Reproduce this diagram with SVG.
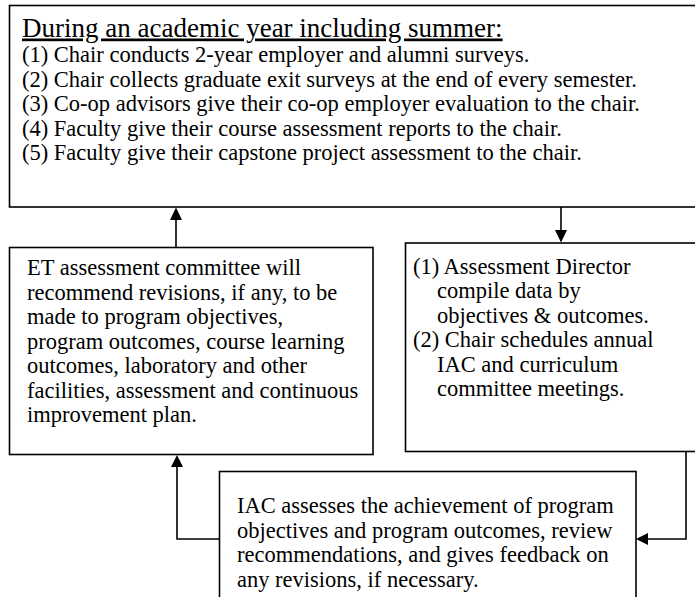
<svg xmlns="http://www.w3.org/2000/svg" width="695" height="597" viewBox="0 0 695 597">
<defs>
<style>
.box{fill:#fff;stroke:#000;stroke-width:1.6}
.t{font-family:"Liberation Serif","Times New Roman","DejaVu Serif",serif;font-size:22.5px;fill:#000}
.title{font-family:"Liberation Serif","Times New Roman","DejaVu Serif",serif;font-size:27px;fill:#000;text-decoration:underline}
.conn{fill:none;stroke:#000;stroke-width:1.6}
.head{fill:#000}
</style>
</defs>
<rect width="695" height="597" fill="#fff"/>
<g id="connectors">
<line class="conn" x1="176" y1="247" x2="176" y2="219"/>
<path class="head" d="M170,220 L176,207.5 L182,220 z"/>
<line class="conn" x1="561" y1="207" x2="561" y2="231"/>
<path class="head" d="M555,230 L561,242.5 L567,230 z"/>
<polyline class="conn" points="686,451 686,539 648,539"/>
<path class="head" d="M648,533 L636,539 L648,545 z"/>
<polyline class="conn" points="219,539 177,539 177,467"/>
<path class="head" d="M171,467 L177,455 L183,467 z"/>
</g>
<g id="top">
<rect class="box" x="9.5" y="5.5" width="700" height="201.5"/>
<text class="title" x="22" y="36.5">During an academic year including summer:</text>
<text class="t" x="22" y="62">(1) Chair conducts 2-year employer and alumni surveys.</text>
<text class="t" x="22" y="86.5">(2) Chair collects graduate exit surveys at the end of every semester.</text>
<text class="t" x="22" y="111">(3) Co-op advisors give their co-op employer evaluation to the chair.</text>
<text class="t" x="22" y="135.5">(4) Faculty give their course assessment reports to the chair.</text>
<text class="t" x="22" y="160">(5) Faculty give their capstone project assessment to the chair.</text>
</g>
<g id="left">
<rect class="box" x="9.5" y="247.5" width="363.5" height="207"/>
<text class="t" x="27" y="275">ET assessment committee will</text>
<text class="t" x="27" y="299.5">recommend revisions, if any, to be</text>
<text class="t" x="27" y="324">made to program objectives,</text>
<text class="t" x="27" y="348.5">program outcomes, course learning</text>
<text class="t" x="27" y="373">outcomes, laboratory and other</text>
<text class="t" x="27" y="397.5">facilities, assessment and continuous</text>
<text class="t" x="27" y="422">improvement plan.</text>
</g>
<g id="right">
<rect class="box" x="405.5" y="243" width="300" height="208.5"/>
<text class="t" x="413" y="274">(1) Assessment Director</text>
<text class="t" x="437" y="298.4">compile data by</text>
<text class="t" x="437" y="322.8">objectives &amp; outcomes.</text>
<text class="t" x="413" y="347.2">(2) Chair schedules annual</text>
<text class="t" x="437" y="371.6">IAC and curriculum</text>
<text class="t" x="437" y="396">committee meetings.</text>
</g>
<g id="bottom">
<rect class="box" x="219.5" y="471.5" width="416.5" height="140"/>
<text class="t" x="237" y="513">IAC assesses the achievement of program</text>
<text class="t" x="237" y="537.5">objectives and program outcomes, review</text>
<text class="t" x="237" y="562">recommendations, and gives feedback on</text>
<text class="t" x="237" y="586.5">any revisions, if necessary.</text>
</g>
</svg>
